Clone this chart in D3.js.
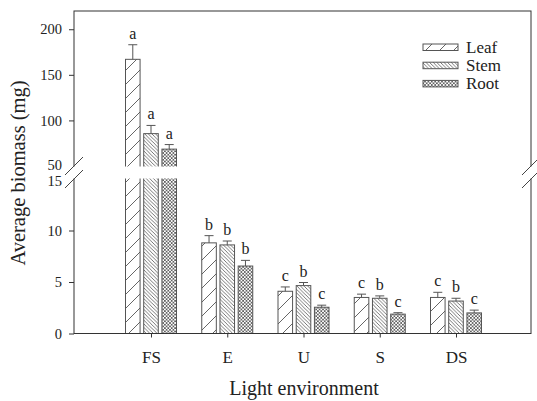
<!DOCTYPE html>
<html>
<head>
<meta charset="utf-8">
<script src="https://cdn.jsdelivr.net/npm/d3@7"></script>
<style>
  html, body { margin: 0; padding: 0; background: #fff; }
  svg { display: block; }
  text { font-family: "Liberation Serif", "Times New Roman", serif; fill: #222; }
</style>
</head>
<body>
<svg id="chart" width="537" height="401"></svg>
<script>
// Biomass by light environment (mean + SE), broken y axis
const categories = ["FS", "E", "U", "S", "DS"];
const seriesNames = ["Leaf", "Stem", "Root"];
const leafMean = [167, 8.8, 4.1, 3.5, 3.5];
const leafErr = [16, 0.7, 0.42, 0.32, 0.5];
const stemMean = [85.5, 8.6, 4.65, 3.42, 3.15];
const stemErr = [9, 0.38, 0.3, 0.23, 0.27];
const rootMean = [68.5, 6.55, 2.55, 1.88, 2.0];
const rootErr = [5, 0.55, 0.2, 0.14, 0.27];
const leafLetters = ["a", "b", "c", "c", "c"];
const stemLetters = ["a", "b", "b", "b", "b"];
const rootLetters = ["a", "b", "c", "c", "c"];
const lowerTicks = [0, 5, 10, 15];
const upperTicks = [50, 100, 150, 200];

const series = [
  { name: "Leaf", mean: leafMean, err: leafErr, letters: leafLetters, fill: "url(#hatchLeaf)" },
  { name: "Stem", mean: stemMean, err: stemErr, letters: stemLetters, fill: "url(#hatchStem)" },
  { name: "Root", mean: rootMean, err: rootErr, letters: rootLetters, fill: "url(#hatchRoot)" }
];

const svg = d3.select("#chart");
const frameL = 74, frameR = 531, frameT = 11, frameB = 333.5;
const breakLo = 179, breakHi = 166;   // pixel edges of the axis break
const ink = "#555";

// two y segments
const yLow = d3.scaleLinear().domain([0, 15]).range([frameB, breakLo]);
const yHigh = d3.scaleLinear().domain([50, 220]).range([breakHi, frameT]);
const yv = v => (v <= 15 ? yLow(v) : yHigh(v));

const x = d3.scalePoint().domain(categories).range([151, 456]);
const xs = d3.scaleBand().domain(seriesNames).range([-25.5, 25.5]).paddingInner(0.2);

// hatch patterns
const defs = svg.append("defs");
const pLeaf = defs.append("pattern").attr("id", "hatchLeaf")
  .attr("patternUnits", "userSpaceOnUse").attr("width", 14).attr("height", 14);
pLeaf.append("path").attr("d", "M0,14 L14,0 M-3,3 L3,-3 M11,17 L17,11")
  .attr("stroke", ink).attr("stroke-width", 0.9);

const pStem = defs.append("pattern").attr("id", "hatchStem")
  .attr("patternUnits", "userSpaceOnUse").attr("width", 3.6).attr("height", 3.6);
pStem.append("path").attr("d", "M0,0 L3.6,3.6 M-1,2.6 L1,4.6 M2.6,-1 L4.6,1")
  .attr("stroke", ink).attr("stroke-width", 0.8);

const pRoot = defs.append("pattern").attr("id", "hatchRoot")
  .attr("patternUnits", "userSpaceOnUse").attr("width", 3.4).attr("height", 3.4);
pRoot.append("path").attr("d", "M0,0 L3.4,3.4 M3.4,0 L0,3.4")
  .attr("stroke", ink).attr("stroke-width", 0.8);

// bars
const barG = svg.append("g");
series.forEach(s => {
  categories.forEach((c, i) => {
    const bx = x(c) + xs(s.name);
    const bw = xs.bandwidth();
    const yt = yv(s.mean[i]);
    barG.append("rect")
      .attr("x", bx).attr("y", yt)
      .attr("width", bw).attr("height", frameB - yt)
      .attr("fill", s.fill).attr("stroke", ink).attr("stroke-width", 1);
    const ye = yv(s.mean[i] + s.err[i]);
    const cx = bx + bw / 2;
    barG.append("line").attr("x1", cx).attr("x2", cx).attr("y1", yt).attr("y2", ye)
      .attr("stroke", ink).attr("stroke-width", 1);
    barG.append("line").attr("x1", cx - 4.5).attr("x2", cx + 4.5).attr("y1", ye).attr("y2", ye)
      .attr("stroke", ink).attr("stroke-width", 1);
    barG.append("text").attr("x", cx).attr("y", ye - 6)
      .attr("text-anchor", "middle").attr("font-size", 16)
      .text(s.letters[i]);
  });
});

// frame
svg.append("rect").attr("x", frameL).attr("y", frameT)
  .attr("width", frameR - frameL).attr("height", frameB - frameT)
  .attr("fill", "none").attr("stroke", "#333").attr("stroke-width", 1);

// blank band at the break
svg.append("rect").attr("x", 70).attr("y", breakHi + 0.5)
  .attr("width", frameR - 70 + 5).attr("height", breakLo - breakHi - 1)
  .attr("fill", "#fff");

// break marks
[frameL, frameR].forEach(bx => {
  [breakHi, breakLo].forEach(by => {
    svg.append("line")
      .attr("x1", bx - 9).attr("y1", by + 9)
      .attr("x2", bx + 9).attr("y2", by - 9)
      .attr("stroke", "#444").attr("stroke-width", 1);
  });
});

// y axes
function styleAxis(g) {
  g.select(".domain").remove();
  g.selectAll(".tick line").attr("stroke", "#333");
  g.selectAll(".tick text").attr("font-size", 14.5)
    .style("font-family", "'Liberation Serif', 'Times New Roman', serif").attr("fill", "#222");
}
const gLow = svg.append("g").attr("transform", `translate(${frameL},0)`)
  .call(d3.axisLeft(yLow).tickValues(lowerTicks).tickSize(5).tickPadding(7))
  .call(styleAxis);
const t15 = gLow.selectAll(".tick").filter(d => d === 15);
t15.select("line").remove();
t15.select("text").attr("dy", "0.42em");
const gHigh = svg.append("g").attr("transform", `translate(${frameL},0)`)
  .call(d3.axisLeft(yHigh).tickValues(upperTicks).tickSize(5).tickPadding(7))
  .call(styleAxis);
const t50 = gHigh.selectAll(".tick").filter(d => d === 50);
t50.select("line").remove();
t50.select("text").attr("dy", "0.22em");

// x axis
svg.append("g").attr("transform", `translate(0,${frameB})`)
  .call(d3.axisBottom(x).tickSize(4).tickPadding(13.5))
  .call(g => {
    g.select(".domain").remove();
    g.selectAll(".tick line").attr("stroke", "#333");
    g.selectAll(".tick text").attr("font-size", 17)
      .style("font-family", "'Liberation Serif', 'Times New Roman', serif").attr("fill", "#222");
  });

// axis titles
svg.append("text").attr("x", 304).attr("y", 395)
  .attr("text-anchor", "middle").attr("font-size", 20)
  .text("Light environment");
svg.append("text").attr("transform", "translate(25,173) rotate(-90)")
  .attr("text-anchor", "middle").attr("font-size", 20.5)
  .text("Average biomass (mg)");

// legend
const legend = svg.append("g");
series.forEach((s, i) => {
  const ly = 44 + i * 18.2;
  legend.append("rect").attr("x", 423).attr("y", ly)
    .attr("width", 35).attr("height", 6.5)
    .attr("fill", s.fill).attr("stroke", ink).attr("stroke-width", 1);
  legend.append("text").attr("x", 466).attr("y", ly + 9)
    .attr("font-size", 17).text(s.name);
});
</script>
</body>
</html>
